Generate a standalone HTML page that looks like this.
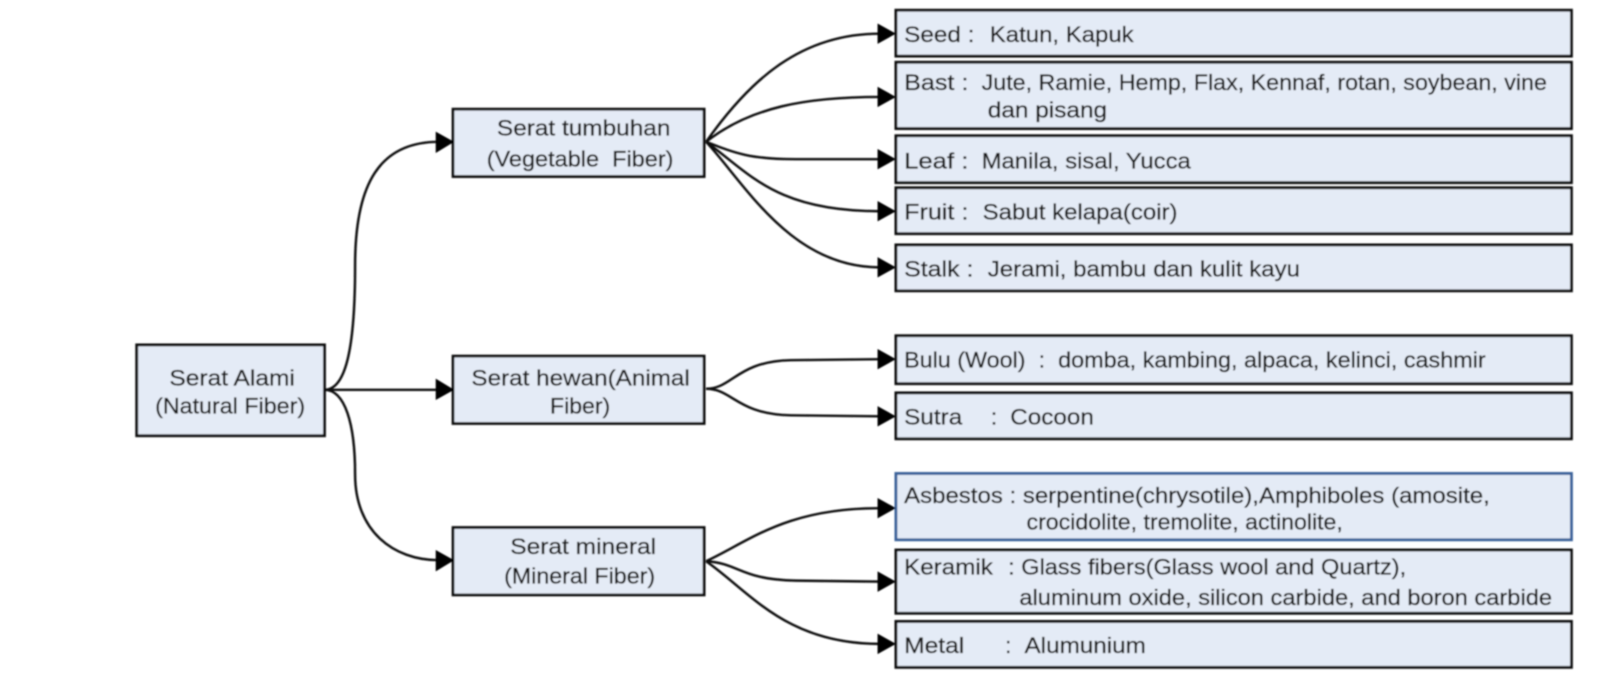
<!DOCTYPE html>
<html><head><meta charset="utf-8"><style>
html,body{margin:0;padding:0;background:#fff;width:1600px;height:678px;overflow:hidden}
svg{display:block}
text{font-family:"Liberation Sans",sans-serif;font-size:22px;fill:#141414;stroke:#141414;stroke-width:.3}
.b{fill:#e4ebf6;stroke:#111;stroke-width:2.8}
.c{fill:none;stroke:#111;stroke-width:2.4}
.a{fill:#000;stroke:none}
</style></head><body>
<svg width="1600" height="678" viewBox="0 0 1568 664.44" xmlns="http://www.w3.org/2000/svg">
<defs><filter id="f" x="-2%" y="-2%" width="104%" height="104%"><feGaussianBlur stdDeviation="0.75"/></filter></defs>
<g filter="url(#f)">
<rect class="b" x="134" y="338" width="184" height="89"/>
<rect class="b" x="444" y="107" width="246" height="66"/>
<rect class="b" x="444" y="349" width="246" height="66"/>
<rect class="b" x="444" y="517" width="246" height="66"/>
<rect class="b" x="878" y="10" width="662" height="45"/>
<rect class="b" x="878" y="61" width="662" height="65"/>
<rect class="b" x="878" y="133" width="662" height="46"/>
<rect class="b" x="878" y="184" width="662" height="45"/>
<rect class="b" x="878" y="240" width="662" height="45"/>
<rect class="b" x="878" y="329" width="662" height="47"/>
<rect class="b" x="878" y="385" width="662" height="45"/>
<rect class="b" x="878" y="464" width="662" height="65" style="stroke:#3b629a"/>
<rect class="b" x="878" y="539" width="662" height="62"/>
<rect class="b" x="878" y="609" width="662" height="45"/>

<path class="c" d="M318 382C338 382 348 345 348 260C348 180 372 139 430 139"/>
<path class="c" d="M318 382H430"/>
<path class="c" d="M318 382C338 382 348 415 348 465C348 520 385 549 430 549"/>
<path class="c" d="M692 139C735 78 785 33 862 33"/>
<path class="c" d="M692 139C735 105 790 95 862 95"/>
<path class="c" d="M692 139C720 150 735 156 780 156H862"/>
<path class="c" d="M692 139C735 170 760 207 862 207"/>
<path class="c" d="M692 139C730 180 775 262 862 262"/>
<path class="c" d="M692 381C718 381 722 354 775 353L862 352"/>
<path class="c" d="M692 381C718 381 722 406 775 407L862 408"/>
<path class="c" d="M692 550C735 530 770 498 862 498"/>
<path class="c" d="M692 550C725 552 725 568 780 569L862 570"/>
<path class="c" d="M692 550C735 580 770 631 862 631"/>

<path class="a" d="M427 129L445 139L427 150Z"/>
<path class="a" d="M427 371L445 382L427 392Z"/>
<path class="a" d="M427 539L445 549L427 560Z"/>
<path class="a" d="M860 23L878 33L860 43Z"/>
<path class="a" d="M860 85L878 95L860 105Z"/>
<path class="a" d="M860 146L878 156L860 166Z"/>
<path class="a" d="M860 197L878 207L860 217Z"/>
<path class="a" d="M860 252L878 262L860 272Z"/>
<path class="a" d="M860 342L878 352L860 362Z"/>
<path class="a" d="M860 398L878 408L860 418Z"/>
<path class="a" d="M860 488L878 498L860 508Z"/>
<path class="a" d="M860 560L878 570L860 580Z"/>
<path class="a" d="M860 621L878 631L860 641Z"/>

<text x="166" y="378" textLength="123" lengthAdjust="spacingAndGlyphs">Serat Alami</text>
<text x="152" y="405" textLength="147" lengthAdjust="spacingAndGlyphs">(Natural Fiber)</text>
<text x="487" y="133" textLength="170" lengthAdjust="spacingAndGlyphs">Serat tumbuhan</text>
<text x="477" y="163" textLength="183" lengthAdjust="spacingAndGlyphs" xml:space="preserve">(Vegetable  Fiber)</text>
<text x="462" y="378" textLength="214" lengthAdjust="spacingAndGlyphs">Serat hewan(Animal</text>
<text x="539" y="405" textLength="59" lengthAdjust="spacingAndGlyphs">Fiber)</text>
<text x="500" y="543" textLength="143" lengthAdjust="spacingAndGlyphs">Serat mineral</text>
<text x="494" y="572" textLength="148" lengthAdjust="spacingAndGlyphs">(Mineral Fiber)</text>

<text x="886" y="41" textLength="69" lengthAdjust="spacingAndGlyphs">Seed :</text>
<text x="970" y="41" textLength="141" lengthAdjust="spacingAndGlyphs">Katun, Kapuk</text>
<text x="886" y="88" textLength="63" lengthAdjust="spacingAndGlyphs">Bast :</text>
<text x="962" y="88" textLength="554" lengthAdjust="spacingAndGlyphs">Jute, Ramie, Hemp, Flax, Kennaf, rotan, soybean, vine</text>
<text x="968" y="115" textLength="117" lengthAdjust="spacingAndGlyphs">dan pisang</text>
<text x="886" y="165" textLength="63" lengthAdjust="spacingAndGlyphs">Leaf :</text>
<text x="962" y="165" textLength="205" lengthAdjust="spacingAndGlyphs">Manila, sisal, Yucca</text>
<text x="886" y="215" textLength="63" lengthAdjust="spacingAndGlyphs">Fruit :</text>
<text x="963" y="215" textLength="191" lengthAdjust="spacingAndGlyphs">Sabut kelapa(coir)</text>
<text x="886" y="271" textLength="68" lengthAdjust="spacingAndGlyphs">Stalk :</text>
<text x="968" y="271" textLength="306" lengthAdjust="spacingAndGlyphs">Jerami, bambu dan kulit kayu</text>
<text x="886" y="360" textLength="119" lengthAdjust="spacingAndGlyphs">Bulu (Wool)</text>
<text x="1018" y="360">:</text>
<text x="1037" y="360" textLength="419" lengthAdjust="spacingAndGlyphs">domba, kambing, alpaca, kelinci, cashmir</text>
<text x="886" y="416" textLength="57" lengthAdjust="spacingAndGlyphs">Sutra</text>
<text x="971" y="416">:</text>
<text x="990" y="416" textLength="82" lengthAdjust="spacingAndGlyphs">Cocoon</text>
<text x="886" y="493" textLength="574" lengthAdjust="spacingAndGlyphs">Asbestos : serpentine(chrysotile),Amphiboles (amosite,</text>
<text x="1006" y="519" textLength="310" lengthAdjust="spacingAndGlyphs">crocidolite, tremolite, actinolite,</text>
<text x="886" y="563" textLength="87" lengthAdjust="spacingAndGlyphs">Keramik</text>
<text x="988" y="563" textLength="390" lengthAdjust="spacingAndGlyphs">: Glass fibers(Glass wool and Quartz),</text>
<text x="999" y="593" textLength="522" lengthAdjust="spacingAndGlyphs">aluminum oxide, silicon carbide, and boron carbide</text>
<text x="886" y="640" textLength="59" lengthAdjust="spacingAndGlyphs">Metal</text>
<text x="985" y="640">:</text>
<text x="1004" y="640" textLength="119" lengthAdjust="spacingAndGlyphs">Alumunium</text>
</g>
</svg>
</body></html>
